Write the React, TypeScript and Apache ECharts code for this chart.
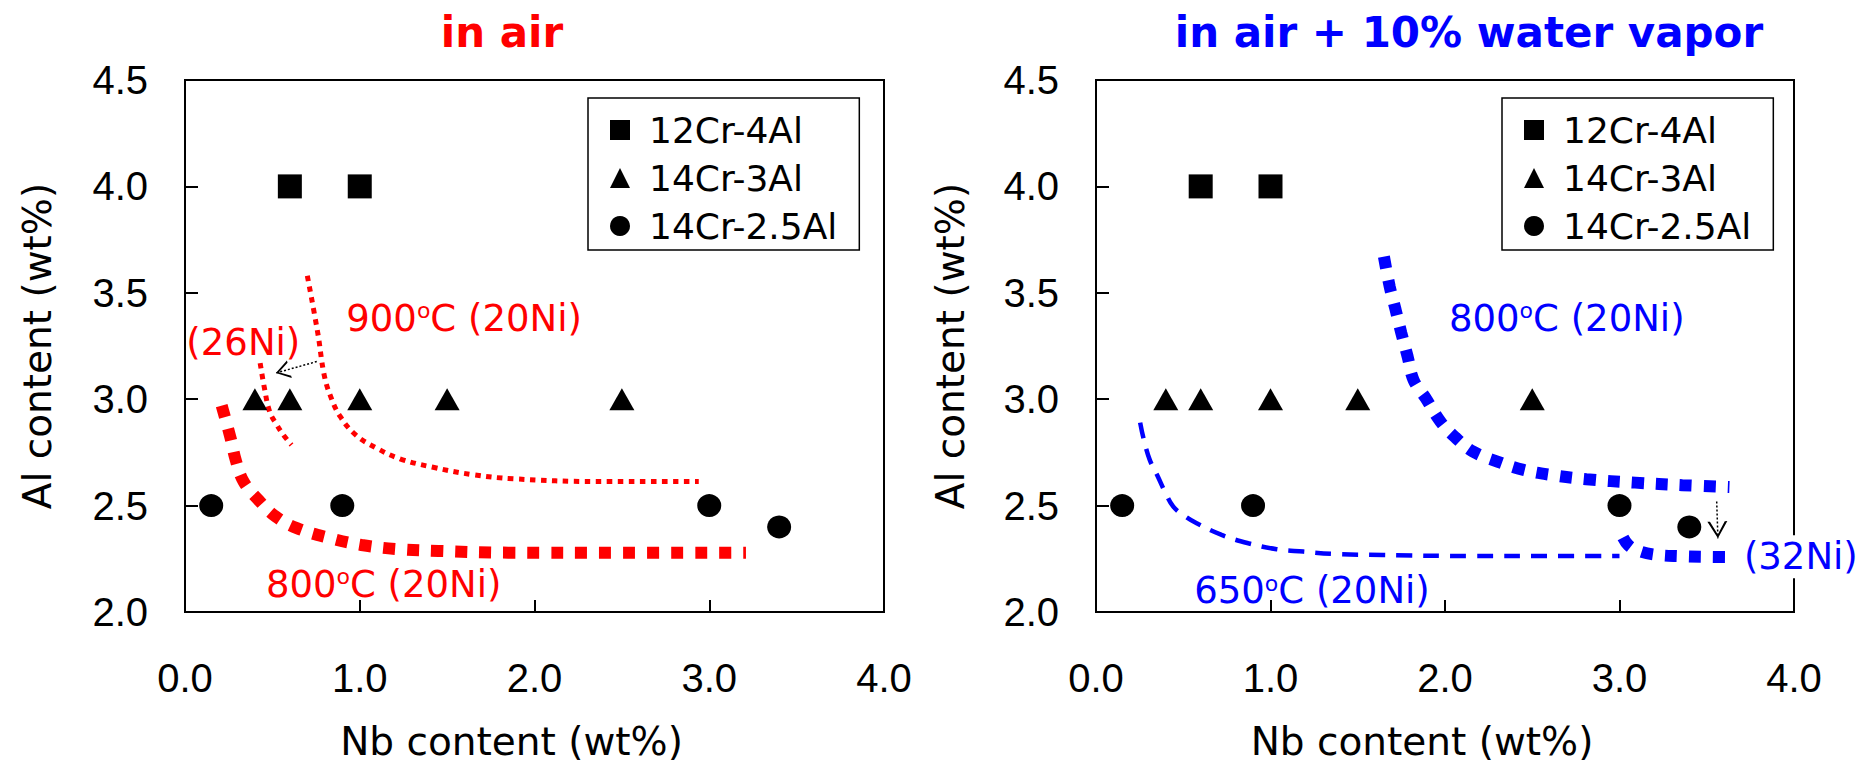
import React, { useEffect, useRef } from 'react';
import * as echarts from 'echarts';

// ---------- data ----------
const seriesNames = ['12Cr-4Al', '14Cr-3Al', '14Cr-2.5Al'];
const xTickLabels = ['0.0', '1.0', '2.0', '3.0', '4.0'];
const yTickLabels = ['2.0', '2.5', '3.0', '3.5', '4.0', '4.5'];

// in air
const air12Cr4Al = [[0.6, 4.0], [1.0, 4.0]];
const air14Cr3Al = [[0.4, 3.0], [0.6, 3.0], [1.0, 3.0], [1.5, 3.0], [2.5, 3.0]];
const air14Cr25Al = [[0.15, 2.5], [0.9, 2.5], [3.0, 2.5], [3.4, 2.4]];
// in air + 10% water vapor
const vap12Cr4Al = [[0.6, 4.0], [1.0, 4.0]];
const vap14Cr3Al = [[0.4, 3.0], [0.6, 3.0], [1.0, 3.0], [1.5, 3.0], [2.5, 3.0]];
const vap14Cr25Al = [[0.15, 2.5], [0.9, 2.5], [3.0, 2.5], [3.4, 2.4]];

// boundary curves
const air900C20Ni = [[0.70, 3.58], [0.76, 3.31], [0.795, 3.12], [0.83, 3.02], [0.887, 2.92], [0.98, 2.83], [1.097, 2.77], [1.23, 2.72], [1.42, 2.68], [1.65, 2.645], [1.88, 2.626], [2.36, 2.613], [2.94, 2.613]];
const air900C26Ni = [[0.43, 3.17], [0.455, 3.05], [0.485, 2.94], [0.525, 2.88], [0.565, 2.83], [0.61, 2.785]];
const air800C20Ni = [[0.21, 2.97], [0.26, 2.82], [0.29, 2.715], [0.335, 2.613], [0.42, 2.527], [0.52, 2.448], [0.64, 2.394], [0.83, 2.347], [1.01, 2.315], [1.21, 2.296], [1.45, 2.287], [1.85, 2.279], [2.5, 2.278], [3.21, 2.279]];
const vap800C20Ni = [[1.65, 3.67], [1.683, 3.53], [1.717, 3.42], [1.75, 3.31], [1.786, 3.2], [1.82, 3.09], [1.888, 3.007], [1.974, 2.895], [2.06, 2.82], [2.16, 2.754], [2.3, 2.707], [2.45, 2.668], [2.61, 2.644], [2.81, 2.624], [3.09, 2.608], [3.36, 2.596], [3.63, 2.587]];
const vap650C20Ni = [[0.253, 2.89], [0.274, 2.81], [0.308, 2.715], [0.355, 2.636], [0.395, 2.565], [0.443, 2.495], [0.51, 2.45], [0.577, 2.417], [0.72, 2.362], [0.873, 2.323], [1.035, 2.295], [1.188, 2.284], [1.36, 2.273], [1.646, 2.268], [2.16, 2.263], [2.6, 2.263], [3.0, 2.263]];
const vap800C32Ni = [[3.02, 2.35], [3.05, 2.315], [3.1, 2.29], [3.2, 2.27], [3.35, 2.262], [3.5, 2.259], [3.65, 2.258]];

// arrows (from, to)
const arrowAir = [[0.754, 3.177], [0.52, 3.123]];
const arrowVap = [[3.557, 2.519], [3.564, 2.346]];

// annotation anchors (left-middle of text)
const lblAir900 = [0.92, 3.38];
const lblAir26 = [0.005, 3.265];
const lblAir800 = [0.46, 2.13];
const lblVap800 = [2.02, 3.38];
const lblVap650 = [0.56, 2.1];
const lblVap32 = [3.71, 2.26];

// ---------- styling ----------
const FONT = '"DejaVu Sans", sans-serif';
const TICKFONT = '"Liberation Sans", Arial, sans-serif';
const RED = '#ff0000';
const BLUE = '#0000ff';
const ARROW = 'path://M10,0 L10.05,0 L10.05,0.05 Z M0,34 L10,17 L20,34 L17.4,34 L10,20.8 L2.6,34 Z';

const gridPos = [
  { left: 185, top: 80, width: 699, height: 532 },
  { left: 1096, top: 80, width: 698, height: 532 },
];

function scatter(name: string, data: number[][], symbol: string, size: any, idx: number) {
  return {
    type: 'scatter', name, data, symbol, symbolSize: size,
    xAxisIndex: idx, yAxisIndex: idx,
    itemStyle: { color: '#000', opacity: 1 }, z: 5, silent: true,
  };
}

function curve(data: number[][], color: string, width: number, dash: number[], idx: number) {
  return {
    type: 'line', data, xAxisIndex: idx, yAxisIndex: idx,
    showSymbol: false, symbol: 'none', smooth: 0.4,
    lineStyle: { color, width, type: dash, cap: 'butt', opacity: 1 },
    z: 3, silent: true,
  };
}

function arrow(coords: number[][], size: number[], idx: number) {
  return {
    type: 'lines', coordinateSystem: 'cartesian2d', xAxisIndex: idx, yAxisIndex: idx,
    data: [{ coords }],
    symbol: ['none', ARROW], symbolSize: [1, size],
    lineStyle: { color: '#000', width: 1.5, type: [2, 2], opacity: 1, curveness: 0 },
    z: 4, silent: true,
  };
}

function label(pos: number[], text: string, color: string, idx: number, bg?: boolean) {
  return {
    type: 'scatter', data: [pos], symbolSize: 1, xAxisIndex: idx, yAxisIndex: idx,
    itemStyle: { color: 'rgba(0,0,0,0)', opacity: 1 }, z: 6, silent: true,
    label: {
      show: true, position: 'right', distance: 0,
      formatter: text,
      opacity: 1,
      backgroundColor: bg ? '#fff' : 'transparent',
      padding: bg ? [3, 0, 3, 0] : 0,
      rich: {
        n: { fontSize: 37, fontFamily: FONT, color },
        s: { fontSize: 22, fontFamily: FONT, color, verticalAlign: 'top' },
      },
    },
  };
}

function option() {
  return {
    animation: false,
    backgroundColor: '#fff',
    graphic: [
      { type: 'text', x: 502, y: 32, style: { text: 'in air', fill: RED, font: `bold 42px ${FONT}`, align: 'center', verticalAlign: 'middle' } },
      { type: 'text', x: 1469, y: 32, style: { text: 'in air + 10% water vapor', fill: BLUE, font: `bold 42px ${FONT}`, align: 'center', verticalAlign: 'middle' } },
    ],
    grid: gridPos.map((g) => ({ ...g, show: true, borderColor: '#000', borderWidth: 2, backgroundColor: 'transparent' })),
    legend: [588, 1502].map((left) => ({
      data: seriesNames, orient: 'vertical', left, top: 98,
      padding: [14, 22, 6, 22], itemGap: 12, itemWidth: 20, itemHeight: 20,
      borderColor: '#000', borderWidth: 1.5, backgroundColor: '#fff',
      selectedMode: false,
      itemStyle: { opacity: 1, color: '#000' },
      textStyle: { fontSize: 36, fontFamily: FONT, color: '#000', padding: [0, 0, 0, 14], lineHeight: 36 },
    })),
    xAxis: [0, 1].map((i) => ({
      gridIndex: i, type: 'value', min: 0, max: 4, interval: 1,
      axisLine: { show: true, onZero: false, lineStyle: { color: '#000', width: 2 } },
      axisTick: { show: true, inside: true, length: 12, lineStyle: { color: '#000', width: 2 } },
      axisLabel: { margin: 46, fontSize: 40, fontFamily: TICKFONT, color: '#000', formatter: (v: number) => xTickLabels[Math.round(v)] },
      splitLine: { show: false },
      name: 'Nb content (wt%)', nameLocation: 'middle', nameGap: 110,
      nameTextStyle: { fontSize: 39, fontFamily: FONT, color: '#000', padding: [0, 46, 0, 0] },
    })),
    yAxis: [0, 1].map((i) => ({
      gridIndex: i, type: 'value', min: 2, max: 4.5, interval: 0.5,
      axisLine: { show: true, onZero: false, lineStyle: { color: '#000', width: 2 } },
      axisTick: { show: true, inside: true, length: 13, lineStyle: { color: '#000', width: 2 } },
      axisLabel: { margin: 37, fontSize: 40, fontFamily: TICKFONT, color: '#000', formatter: (v: number) => yTickLabels[Math.round((v - 2) * 2)] },
      splitLine: { show: false },
      name: 'Al content (wt%)', nameLocation: 'middle', nameGap: i === 0 ? 128 : 126,
      nameTextStyle: { fontSize: 39, fontFamily: FONT, color: '#000' },
    })),
    series: [
      curve(air900C20Ni, RED, 5, [5.5, 5.5], 0),
      curve(air900C26Ni, RED, 5, [5.5, 5.5], 0),
      curve(air800C20Ni, RED, 12, [12, 12], 0),
      curve(vap800C20Ni, BLUE, 12, [12, 12], 1),
      curve(vap650C20Ni, BLUE, 4.5, [16, 11], 1),
      curve(vap800C32Ni, BLUE, 12, [12, 12], 1),
      arrow(arrowAir, [18, 28], 0),
      arrow(arrowVap, [20, 34], 1),
      scatter(seriesNames[0], air12Cr4Al, 'rect', 24, 0),
      scatter(seriesNames[1], air14Cr3Al, 'triangle', [25, 22], 0),
      scatter(seriesNames[2], air14Cr25Al, 'circle', [24, 23], 0),
      scatter(seriesNames[0], vap12Cr4Al, 'rect', 24, 1),
      scatter(seriesNames[1], vap14Cr3Al, 'triangle', [25, 22], 1),
      scatter(seriesNames[2], vap14Cr25Al, 'circle', [24, 23], 1),
      label(lblAir900, '{n|900}{s|o}{n|C (20Ni)}', RED, 0),
      label(lblAir26, '{n|(26Ni)}', RED, 0),
      label(lblAir800, '{n|800}{s|o}{n|C (20Ni)}', RED, 0),
      label(lblVap800, '{n|800}{s|o}{n|C (20Ni)}', BLUE, 1),
      label(lblVap650, '{n|650}{s|o}{n|C (20Ni)}', BLUE, 1),
      label(lblVap32, '{n|(32Ni)}', BLUE, 1, true),
    ],
  };
}

export default function App() {
  const ref = useRef<HTMLDivElement>(null);
  useEffect(() => {
    const chart = echarts.init(ref.current as HTMLDivElement, null, { renderer: 'svg' });
    chart.setOption(option() as any);
    return () => chart.dispose();
  }, []);
  return (
    <div
      ref={ref}
      style={{ position: 'absolute', left: 0, top: 0, width: 1872, height: 767, background: '#fff' }}
    />
  );
}
